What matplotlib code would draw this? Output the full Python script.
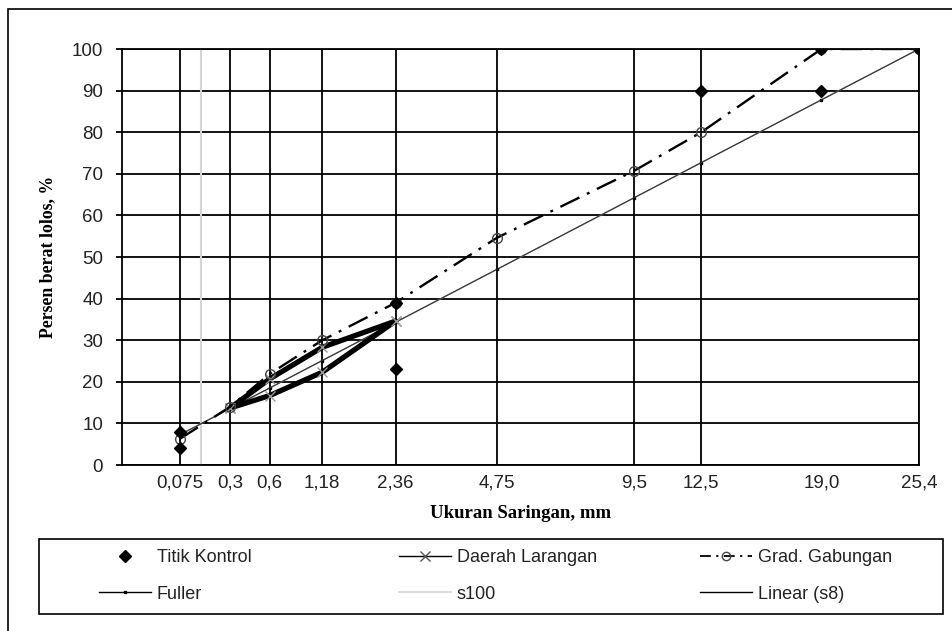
import numpy as np
import matplotlib
matplotlib.use("Agg")
import matplotlib.pyplot as plt
from matplotlib.lines import Line2D
from matplotlib.patches import Rectangle

# ukuran saringan (mm) dan label sumbu x
saringan = [0.075, 0.3, 0.6, 1.18, 2.36, 4.75, 9.5, 12.5, 19.0, 25.4]
label_saringan = ["0,075", "0,3", "0,6", "1,18", "2,36", "4,75", "9,5", "12,5", "19,0", "25,4"]

# titik kontrol
kontrol_x = [0.075, 0.075, 2.36, 2.36, 12.5, 19.0, 19.0, 25.4]
kontrol_y = [8, 4, 39, 23, 90, 100, 90, 100]

# daerah larangan (batas atas dan bawah)
larangan_x = [0.3, 0.6, 1.18, 2.36]
larangan_atas = [13.7, 20.7, 28.3, 34.6]
larangan_bawah = [13.7, 16.7, 22.3, 34.6]

# gradasi gabungan
gabungan_y = [6.3, 14.0, 21.9, 30.0, 39.0, 54.6, 70.7, 80.0, 100, 100]

# kurva fuller
fuller_y = [7.3, 13.6, 18.5, 25.1, 34.3, 47.0, 64.2, 72.7, 87.8, 100]

# saringan no. 100
s100_x = 0.15

PANGKAT = 0.45


def maju(x):
    return np.power(np.clip(x, 0, None), PANGKAT)


def balik(x):
    return np.power(np.clip(x, 0, None), 1 / PANGKAT)


plt.rcParams['font.family'] = ['Liberation Sans', 'DejaVu Sans']

fig = plt.figure(figsize=(9.52, 6.31), dpi=100)
ax = fig.add_axes([122 / 952, 1 - 465 / 631, (919 - 122) / 952, (465 - 49) / 631])
ax.set_xscale('function', functions=(maju, balik))

# garis s100
ax.plot([s100_x, s100_x], [0, 100], color='#d4d4d4', lw=1.5, zorder=1)

# fuller
ax.plot(saringan, fuller_y, color='#777777', lw=1.0, marker='s', markersize=2,
        markerfacecolor='black', markeredgecolor='black', zorder=3)

# trendline linear dari seri fuller
a, b = np.polyfit(maju(np.array(saringan)), fuller_y, 1)
xs = np.linspace(saringan[0], saringan[-1], 300)
ax.plot(xs, a * maju(xs) + b, color='#333333', lw=0.7, zorder=3)

# daerah larangan
for batas in (larangan_atas, larangan_bawah):
    ax.plot(larangan_x, batas, color='black', lw=3.8, solid_capstyle='round',
            solid_joinstyle='round', zorder=4)
    ax.plot(larangan_x, batas, linestyle='none', marker='x', markersize=7,
            markeredgecolor='#999999', markeredgewidth=1.0, zorder=4)

# gradasi gabungan
ax.plot(saringan, gabungan_y, color='black', lw=1.7, dashes=[9, 3.5, 1.2, 3.5],
        marker='o', markersize=7, markerfacecolor='none', markeredgecolor='#444444',
        markeredgewidth=1.0, zorder=5)

# titik kontrol
ax.plot(kontrol_x, kontrol_y, linestyle='none', marker='D', markersize=6,
        color='black', zorder=6)

ax.set_xlim(0, 25.4)
ax.set_ylim(0, 100)
ax.set_xticks(saringan)
ax.set_xticklabels(label_saringan)
ax.set_yticks(range(0, 101, 10))
ax.grid(True, color='black', lw=1.3)
ax.set_axisbelow(True)
# tidak ada garis vertikal di 19,0
ax.xaxis.get_gridlines()[8].set_visible(False)

ax.tick_params(axis='x', length=0, pad=6.5, labelsize=13.5, labelcolor='#222222')
ax.tick_params(axis='y', length=4.5, width=1.3, pad=9, labelsize=13.5, labelcolor='#222222')
for s in ax.spines.values():
    s.set_color('black')
    s.set_linewidth(1.3)

ax.set_xlabel('Ukuran Saringan, mm', family='Liberation Serif', fontweight='bold',
              fontsize=13.5, labelpad=10)
ax.set_ylabel('Persen berat lolos, %', family='Liberation Serif', fontweight='bold',
              fontsize=12.8, labelpad=11)

# legenda
h_kontrol = Line2D([], [], linestyle='none', marker='D', markersize=6, color='black')
h_larangan = Line2D([], [], color='black', lw=1.0, marker='x', markersize=7,
                    markeredgecolor='#555555')
h_gabungan = Line2D([], [], color='black', lw=1.3, dashes=[6, 3, 1.2, 3], marker='o',
                    markersize=6, markerfacecolor='none', markeredgecolor='#444444')
h_fuller = Line2D([], [], color='black', lw=1.0, marker='s', markersize=2)
h_s100 = Line2D([], [], color='#d4d4d4', lw=1.2)
h_linear = Line2D([], [], color='black', lw=1.0)

kolom = [
    (99, [h_kontrol, h_fuller], ['Titik Kontrol', 'Fuller']),
    (399, [h_larangan, h_s100], ['Daerah Larangan', 's100']),
    (700, [h_gabungan, h_linear], ['Grad. Gabungan', 'Linear (s8)']),
]
for xpix, hs, labs in kolom:
    leg = fig.legend(hs, labs, loc='center left', bbox_to_anchor=(xpix / 952, 1 - 576 / 631),
                     frameon=False, fontsize=13, handlelength=2.88, handletextpad=0.33,
                     labelspacing=1.08, borderpad=0, borderaxespad=0, numpoints=1)
    for t in leg.get_texts():
        t.set_color('#222222')

fig.patches.append(Rectangle((39 / 952, 1 - 614 / 631), (943 - 39) / 952, (614 - 539) / 631,
                             transform=fig.transFigure, fill=False, edgecolor='black', lw=1.2))
# bingkai luar
fig.patches.append(Rectangle((8 / 952, -0.1), 1.2, 1.1 - 9 / 631,
                             transform=fig.transFigure, fill=False, edgecolor='black', lw=1.2))

fig.savefig('out.png', dpi=100)
